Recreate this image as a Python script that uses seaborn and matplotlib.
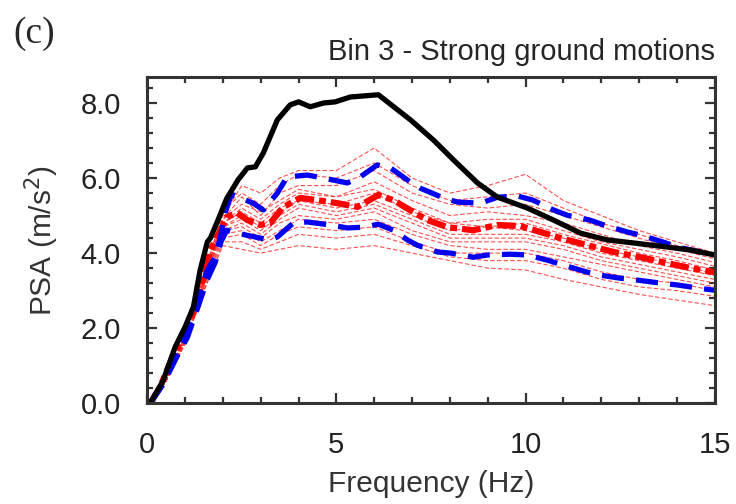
import matplotlib
matplotlib.use("Agg")
import matplotlib.pyplot as plt
import seaborn as sns
import numpy as np
import pandas as pd
from matplotlib.ticker import MultipleLocator

# ---- data ----
target_f = [0.08, 0.42, 0.74, 1.0, 1.22, 1.4, 1.59, 1.67, 1.88, 2.1, 2.4, 2.65, 2.86, 3.07, 3.44,
            3.78, 4.0, 4.31, 4.66, 4.97, 5.37, 6.11, 6.96, 7.57, 8.1, 8.73, 9.26, 10.05,
            10.74, 11.46, 12.17, 12.86, 13.76, 14.37, 15.0]
target_psa = [0.0, 0.6, 1.5, 2.03, 2.56, 3.55, 4.3, 4.4, 4.9, 5.45, 5.95, 6.27, 6.3, 6.67, 7.55,
              7.95, 8.03, 7.9, 8.0, 8.03, 8.16, 8.22, 7.55, 7.01, 6.48, 5.87, 5.49, 5.2,
              4.88, 4.53, 4.35, 4.27, 4.16, 4.08, 3.95]

up_f = [0.08, 0.42, 0.79, 1.06, 1.32, 1.59, 1.8, 1.93, 2.06, 2.2, 2.28, 2.8, 3.07, 3.44, 3.7,
        4.23, 4.66, 5.29, 5.63, 6.08, 6.43, 6.96, 7.22, 7.83, 8.2, 8.81, 9.26, 9.8, 10.2,
        10.74, 11.1, 11.7, 12.07, 12.7, 13.04, 13.65, 14.02, 14.63, 15.0]
up_psa = [0.0, 0.53, 1.33, 1.87, 2.75, 3.55, 3.9, 4.4, 5.07, 5.5, 5.55, 5.33, 5.15, 5.6, 6.03,
          6.08, 6.0, 5.87, 6.03, 6.35, 6.27, 5.89, 5.73, 5.47, 5.36, 5.33, 5.49, 5.52, 5.41,
          5.15, 5.01, 4.88, 4.75, 4.56, 4.48, 4.29, 4.16, 4.03, 3.95]

lo_f = [0.08, 0.42, 0.79, 1.06, 1.32, 1.59, 1.8, 1.95, 2.1, 2.38, 2.99, 3.25, 3.44, 3.86, 4.23,
        4.84, 5.29, 5.71, 6.11, 6.51, 6.88, 7.14, 7.67, 8.02, 8.62, 8.99, 9.6, 10.05, 10.58,
        11.0, 11.64, 11.98, 12.51, 12.96, 13.57, 14.02, 14.55, 15.0]
lo_psa = [0.0, 0.5, 1.25, 1.75, 2.5, 3.3, 3.76, 4.3, 4.61, 4.53, 4.4, 4.35, 4.43, 4.8, 4.83,
          4.75, 4.67, 4.69, 4.77, 4.61, 4.35, 4.21, 4.03, 4.0, 3.89, 3.95, 3.97, 3.95, 3.81,
          3.68, 3.49, 3.41, 3.33, 3.28, 3.2, 3.15, 3.07, 3.01]

mean_f = [0.08, 0.34, 0.7, 1.0, 1.3, 1.67, 1.93, 2.1, 2.38, 2.65, 2.99, 3.25, 3.6, 4.05, 4.5,
          5.03, 5.56, 6.11, 6.51, 7.04, 7.41, 7.94, 8.62, 9.26, 9.87, 10.4, 10.93, 11.64,
          12.33, 13.04, 13.76, 14.37, 15.0]
mean_psa = [0.0, 0.43, 1.3, 1.85, 2.6, 4.08, 4.6, 4.96, 5.07, 4.88, 4.75, 4.8, 5.23, 5.47, 5.41,
            5.33, 5.23, 5.55, 5.41, 5.09, 4.88, 4.69, 4.61, 4.75, 4.72, 4.56, 4.4, 4.21,
            4.03, 3.89, 3.73, 3.6, 3.49]

rec_f = [0.08, 0.5, 1.0, 1.5, 2.0, 2.5, 3.0, 3.5, 4.0, 5.0, 6.0, 7.0, 8.0, 9.0, 10.0, 11.0,
         12.0, 13.0, 14.0, 15.0]
records = {
    "r01": [0, 0.6, 1.8, 3.5, 5.0, 5.8, 5.6, 6.0, 6.2, 6.2, 6.8, 6.0, 5.6, 5.8, 6.1, 5.4, 5.0, 4.6, 4.3, 4.0],
    "r02": [0, 0.6, 1.8, 3.4, 5.1, 5.6, 5.3, 5.8, 6.1, 6.0, 6.4, 5.8, 5.4, 5.5, 5.6, 5.2, 4.8, 4.5, 4.2, 3.9],
    "r03": [0, 0.6, 1.8, 3.4, 4.9, 5.5, 5.0, 5.6, 5.8, 5.8, 6.2, 5.6, 5.3, 5.2, 5.3, 5.0, 4.7, 4.4, 4.1, 3.85],
    "r04": [0, 0.6, 1.7, 3.3, 4.9, 5.3, 5.1, 5.4, 5.7, 5.5, 5.9, 5.4, 5.0, 5.1, 5.0, 4.8, 4.5, 4.2, 4.0, 3.75],
    "r05": [0, 0.6, 1.7, 3.3, 4.8, 5.2, 4.9, 5.3, 5.6, 5.5, 5.7, 5.2, 4.8, 4.9, 4.9, 4.6, 4.3, 4.1, 3.9, 3.65],
    "r06": [0, 0.6, 1.7, 3.3, 4.8, 5.1, 4.8, 5.2, 5.4, 5.3, 5.6, 5.1, 4.8, 4.7, 4.8, 4.5, 4.25, 4.0, 3.8, 3.55],
    "r07": [0, 0.6, 1.7, 3.2, 4.7, 5.0, 4.7, 5.1, 5.4, 5.2, 5.4, 5.0, 4.6, 4.7, 4.6, 4.4, 4.1, 3.9, 3.7, 3.45],
    "r08": [0, 0.6, 1.7, 3.2, 4.7, 4.9, 4.6, 5.0, 5.3, 5.1, 5.3, 4.9, 4.5, 4.5, 4.5, 4.3, 4.0, 3.8, 3.6, 3.4],
    "r09": [0, 0.6, 1.7, 3.2, 4.6, 4.8, 4.5, 4.9, 5.2, 5.0, 5.2, 4.8, 4.4, 4.4, 4.4, 4.2, 3.9, 3.7, 3.5, 3.3],
    "r10": [0, 0.6, 1.7, 3.2, 4.6, 4.7, 4.4, 4.8, 5.0, 4.9, 5.1, 4.6, 4.3, 4.3, 4.3, 4.1, 3.8, 3.6, 3.4, 3.2],
    "r11": [0, 0.6, 1.6, 3.1, 4.5, 4.6, 4.3, 4.6, 4.9, 4.8, 4.9, 4.5, 4.2, 4.1, 4.1, 3.9, 3.7, 3.5, 3.3, 3.1],
    "r12": [0, 0.6, 1.6, 3.1, 4.4, 4.5, 4.2, 4.5, 4.7, 4.6, 4.7, 4.3, 4.0, 4.0, 4.0, 3.8, 3.5, 3.3, 3.2, 3.0],
    "r13": [0, 0.6, 1.6, 3.0, 4.3, 4.3, 4.1, 4.3, 4.5, 4.4, 4.5, 4.2, 3.9, 3.8, 3.8, 3.6, 3.3, 3.1, 3.0, 2.85],
    "r14": [0, 0.6, 1.6, 3.0, 4.2, 4.1, 4.0, 4.1, 4.2, 4.1, 4.2, 4.0, 3.8, 3.6, 3.55, 3.3, 3.1, 2.9, 2.75, 2.6],
}

title = "Bin 3 - Strong ground motions"
xlabel = "Frequency (Hz)"
ylabel = "PSA (m/s$^2$)"
panel = "(c)"
xticks = [0, 5, 10, 15]
yticks = [0.0, 2.0, 4.0, 6.0, 8.0]

# ---- plot ----
sns.set_style("ticks")
plt.rcParams["font.family"] = ["Liberation Sans", "DejaVu Sans"]

fig = plt.figure(figsize=(7.36, 5.04), dpi=100)
ax = fig.add_axes([0.2, 0.2, 0.771, 0.647])

rec_df = pd.DataFrame(
    [(k, f, v) for k, vals in records.items() for f, v in zip(rec_f, vals)],
    columns=["rec", "f", "psa"],
)
sns.lineplot(data=rec_df, x="f", y="psa", units="rec", estimator=None, ax=ax,
             color="#ff3030", lw=0.8, dashes=False, linestyle=(0, (4, 2)), alpha=0.85)

sns.lineplot(x=mean_f, y=mean_psa, ax=ax, color="#ff0000", lw=4.5,
             linestyle=(0, (3, 0.8, 1.1, 0.8)))
sns.lineplot(x=up_f, y=up_psa, ax=ax, color="#0000ee", lw=3.8, linestyle=(0, (4.2, 2.3)))
sns.lineplot(x=lo_f, y=lo_psa, ax=ax, color="#0000ee", lw=3.8, linestyle=(0, (4.2, 2.3)))
sns.lineplot(x=target_f, y=target_psa, ax=ax, color="black", lw=3.8)

ax.set_xlim(0, 15)
ax.set_ylim(0, 8.69)
ax.set_xticks(xticks)
ax.set_xticklabels([str(t) for t in xticks])
ax.set_yticks(yticks)
ax.set_yticklabels([f"{t:.1f}" for t in yticks])
ax.xaxis.set_minor_locator(MultipleLocator(1))
ax.yaxis.set_minor_locator(MultipleLocator(0.4))
ax.tick_params(which="both", direction="in", top=True, right=True, labelsize=21,
               color="#333333", labelcolor="#222222", width=1.6)
ax.tick_params(axis="x", pad=20)
ax.tick_params(axis="y", pad=19)
ax.tick_params(which="major", length=7)
ax.tick_params(which="minor", length=4)
for s in ax.spines.values():
    s.set_linewidth(2.2)
    s.set_color("#333333")

ax.set_xlabel(xlabel, fontsize=21.5, color="#333333", labelpad=8)
ax.set_ylabel(ylabel, fontsize=21.5, color="#333333", labelpad=14)
ax.set_title(title, loc="right", fontsize=21, pad=12)
fig.text(0.018, 0.915, panel, fontsize=27, family=["Liberation Serif", "DejaVu Serif"])

fig.savefig("out.png", dpi=100)
